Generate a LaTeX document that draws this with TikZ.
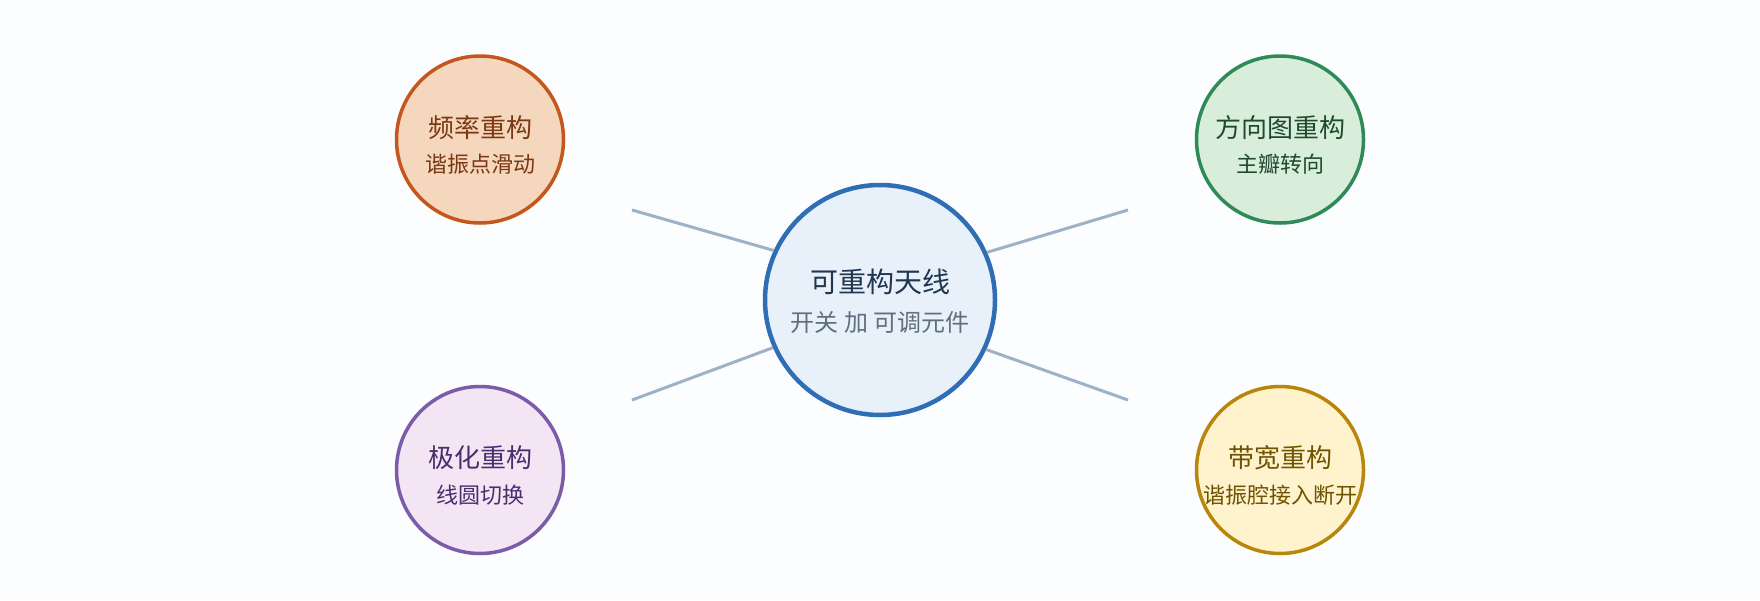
\documentclass[tikz,border=0pt]{standalone}
\usepackage{fontspec}
\newfontfamily\cjk{Noto Sans CJK SC}
\usetikzlibrary{positioning}

\definecolor{bgcol}{HTML}{FCFDFE}
\definecolor{spokecol}{HTML}{9DB2C6}
\definecolor{Hubdraw}{HTML}{2F6DB5}
\definecolor{Hubfill}{HTML}{E8F0F9}
\definecolor{Hubtext}{HTML}{1F3550}
\definecolor{Hubsub}{HTML}{5F6F80}
\definecolor{Freqdraw}{HTML}{C4561E}
\definecolor{Freqfill}{HTML}{F5D7BD}
\definecolor{Freqtext}{HTML}{7B3812}
\definecolor{Patterndraw}{HTML}{2E8B57}
\definecolor{Patternfill}{HTML}{D9EDDB}
\definecolor{Patterntext}{HTML}{1E4A2E}
\definecolor{Poldraw}{HTML}{7B5CA8}
\definecolor{Polfill}{HTML}{F3E5F4}
\definecolor{Poltext}{HTML}{4B2D6B}
\definecolor{Banddraw}{HTML}{B8860B}
\definecolor{Bandfill}{HTML}{FFF3CE}
\definecolor{Bandtext}{HTML}{6E5300}

\begin{document}
\begin{tikzpicture}[
        x=1pt, y=-1pt,
        hub/.style={circle, draw=Hubdraw, fill=Hubfill, line width=4.5pt, minimum size=230pt, inner sep=0},
        petal/.style={circle, line width=3.5pt, minimum size=167pt, inner sep=0},
        spoke/.style={draw=spokecol, line width=3pt},
        title/.style={font=\cjk\fontsize{26}{30}\selectfont},
        subtitle/.style={font=\cjk\fontsize{22}{26}\selectfont}
    ]
        \fill[bgcol] (0,0) rectangle (1760,600);
        \useasboundingbox (0,0) rectangle (1760,600);

        % 中心节点
        \node[hub] (Hub) at (880,300) {};
        \node[title, font=\cjk\fontsize{28}{32}\selectfont, text=Hubtext] (Hub-title) at ([yshift=18pt]Hub.center) {可重构天线};
        \node[subtitle, font=\cjk\fontsize{24}{28}\selectfont, text=Hubsub] (Hub-sub) at ([yshift=-22pt]Hub.center) {开关 加 可调元件};

        % 四个分支:名称/x/y/标题/说明
        \foreach \name/\x/\y/\main/\sub in {
            Freq/480/139.5/频率重构/谐振点滑动,
            Pattern/1280/139.5/方向图重构/主瓣转向,
            Pol/480/470/极化重构/线圆切换,
            Band/1280/470/带宽重构/谐振腔接入断开
        } {
            \node[petal, draw=\name draw, fill=\name fill] (\name) at (\x,\y) {};
            \node[title, text=\name text] (\name-title) at ([yshift=12pt]\name.center) {\main};
            \node[subtitle, text=\name text] (\name-sub) at ([yshift=-25pt]\name.center) {\sub};
        }

        % 连线(自由端)
        \coordinate (Freq-end) at (632,210);
        \coordinate (Pol-end) at (632,400);
        \coordinate (Pattern-end) at (1128,210);
        \coordinate (Band-end) at (1128,400);
        \foreach \e/\a in {Freq-end/155.8, Pol-end/204.2, Pattern-end/24.2, Band-end/335.8} {
            \draw[spoke] (\e) -- (Hub.\a);
        }

    \end{tikzpicture}
\end{document}
